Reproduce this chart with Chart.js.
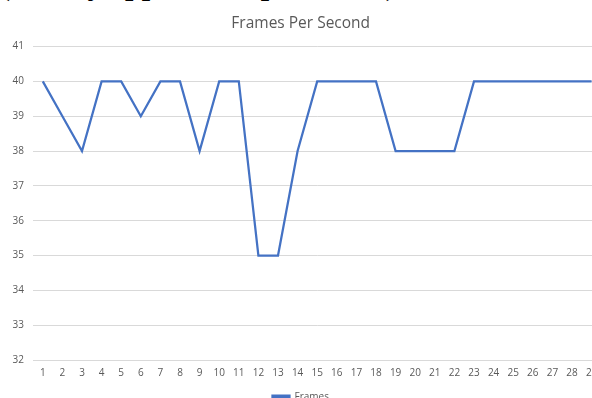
<!DOCTYPE html>
<html>
<head>
<meta charset="utf-8">
<script src="https://cdn.jsdelivr.net/npm/chart.js@4/dist/chart.umd.min.js"></script>
<style>
  html,body{margin:0;padding:0;background:#fff;overflow:hidden;width:592px;height:398px;}
  #heading{position:absolute;left:0;top:-30px;font-family:"Liberation Serif",serif;font-weight:bold;font-size:30px;line-height:30px;color:#000;white-space:nowrap;}
  #wrap{position:absolute;left:0;top:0;width:618px;height:412px;}
</style>
</head>
<body>
<div id="heading">(FPS by application platforms)</div>
<div id="wrap"><canvas id="fpsChart" width="618" height="412"></canvas></div>
<script>
// values
const seconds=["1","2","3","4","5","6","7","8","9","10","11","12","13","14","15","16","17","18","19","20","21","22","23","24","25","26","27","28","29"];
const frames=[40,39,38,40,40,39,40,40,38,40,40,35,35,38,40,40,40,40,38,38,38,38,40,40,40,40,40,40,40];
const yTicks=[32,33,34,35,36,37,38,39,40,41];

const grey="#595959";
const blue="#4472C4";

new Chart(document.getElementById("fpsChart"),{
  type:"line",
  data:{labels:seconds,datasets:[{label:"Frames",data:frames,borderColor:blue,backgroundColor:blue,borderWidth:2.25,pointRadius:0,tension:0,fill:false}]},
  options:{
    responsive:false,animation:false,
    layout:{padding:{left:0,right:16.6,top:0,bottom:0}},
    plugins:{
      title:{display:true,text:"Frames Per Second",color:grey,font:{family:"Open Sans",size:15.5,weight:"normal"},padding:{top:14,bottom:14}},
      legend:{position:"bottom",labels:{color:grey,font:{family:"Open Sans",size:10},boxWidth:17,boxHeight:3,padding:6}},
      tooltip:{enabled:false}
    },
    scales:{
      x:{offset:true,grid:{display:false,drawTicks:false},border:{display:false},
        ticks:{color:grey,font:{family:"Open Sans",size:10},maxRotation:0,autoSkip:false,padding:7}},
      y:{min:yTicks[0],max:yTicks[yTicks.length-1],
        afterFit:s=>{s.width=33;},
        afterBuildTicks:s=>{s.ticks=yTicks.map(v=>({value:v}));},
        grid:{color:"#d9d9d9",lineWidth:1,drawTicks:false},border:{display:false},
        ticks:{color:grey,font:{family:"Open Sans",size:10},padding:9}}
    }
  }
});
</script>
</body>
</html>
